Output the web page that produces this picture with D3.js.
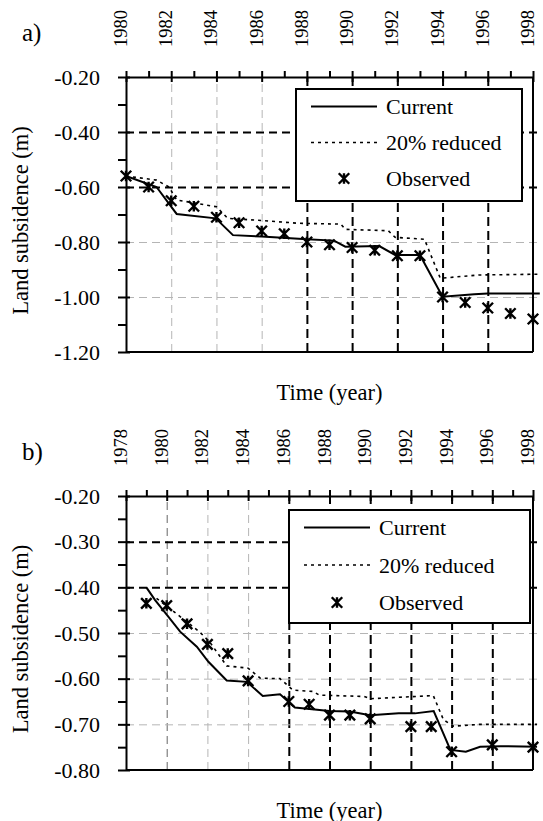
<!DOCTYPE html>
<html>
<head>
<meta charset="utf-8">
<script src="https://cdn.jsdelivr.net/npm/d3@7"></script>
<style>
  body { margin: 0; background: #fff; }
  text { font-family: "Liberation Serif", "Times New Roman", serif; fill: #000; }
</style>
</head>
<body>
<script>
// ---- panel a) data ----
const obsYearsA = [1980, 1981, 1982, 1983, 1984, 1985, 1986, 1987, 1988, 1989, 1990, 1991, 1992, 1993, 1994, 1995, 1996, 1997, 1998];
const observedA = [-0.56, -0.60, -0.65, -0.67, -0.71, -0.73, -0.76, -0.77, -0.80, -0.81, -0.82, -0.83, -0.85, -0.85, -1.00, -1.02, -1.04, -1.06, -1.08];
const currentYearsA = [1980, 1981.35, 1982.24, 1983.97, 1984.73, 1986, 1988, 1989.2, 1989.7, 1991.2, 1991.9, 1993, 1994, 1995.4, 1996, 1998.3];
const currentA = [-0.56, -0.60, -0.698, -0.714, -0.775, -0.78, -0.79, -0.795, -0.817, -0.815, -0.847, -0.847, -0.999, -0.99, -0.987, -0.987];
const reducedYearsA = [1980, 1981.35, 1981.9, 1982.24, 1984.0, 1984.5, 1986, 1987.65, 1989.5, 1989.7, 1991.6, 1991.9, 1993.2, 1993.9, 1995.6, 1998.3];
const reducedA = [-0.56, -0.575, -0.60, -0.647, -0.672, -0.714, -0.722, -0.732, -0.735, -0.754, -0.759, -0.783, -0.79, -0.932, -0.92, -0.917];
const yearLabelsA = [1980, 1982, 1984, 1986, 1988, 1990, 1992, 1994, 1996, 1998];
const yLabelsA = [-0.20, -0.40, -0.60, -0.80, -1.00, -1.20];

// ---- panel b) data ----
const obsYearsB = [1979, 1980, 1981, 1982, 1983, 1984, 1986, 1987, 1988, 1989, 1990, 1992, 1993, 1994, 1996, 1998];
const observedB = [-0.435, -0.44, -0.48, -0.525, -0.545, -0.605, -0.65, -0.656, -0.68, -0.68, -0.688, -0.705, -0.705, -0.76, -0.745, -0.75];
const currentYearsB = [1979, 1979.43, 1980, 1980.66, 1981.48, 1982.05, 1982.95, 1983.94, 1984.72, 1985.57, 1986.3, 1988, 1989, 1990, 1991.4, 1992.2, 1993.12, 1993.94, 1994.7, 1995.4, 1996.4, 1998.2];
const currentB = [-0.40, -0.428, -0.46, -0.497, -0.53, -0.563, -0.604, -0.607, -0.638, -0.634, -0.663, -0.671, -0.672, -0.68, -0.676, -0.676, -0.671, -0.756, -0.76, -0.749, -0.748, -0.749];
const reducedYearsB = [1979.5, 1980.66, 1981.6, 1982.1, 1982.95, 1984, 1984.6, 1985.57, 1986.2, 1987.2, 1987.5, 1989.7, 1990, 1993.1, 1993.6, 1994.1, 1995.4, 1998.2];
const reducedB = [-0.424, -0.464, -0.497, -0.519, -0.572, -0.577, -0.599, -0.60, -0.625, -0.628, -0.636, -0.639, -0.644, -0.637, -0.69, -0.704, -0.70, -0.70];
const yearLabelsB = [1978, 1980, 1982, 1984, 1986, 1988, 1990, 1992, 1994, 1996, 1998];
const yLabelsB = [-0.20, -0.30, -0.40, -0.50, -0.60, -0.70, -0.80];

const legendLabels = ['Current', '20% reduced', 'Observed'];

const serif = '"Liberation Serif", "Times New Roman", serif';

const svg = d3.select('body').append('svg')
  .attr('width', 543)
  .attr('height', 821)
  .attr('font-family', serif);

svg.append('rect').attr('width', 543).attr('height', 821).attr('fill', '#fff');

// X with a vertical bar, like the spreadsheet "star" marker
const starSymbol = {
  draw(ctx, size) {
    const r = Math.sqrt(size) / 2;
    ctx.moveTo(-r, -r); ctx.lineTo(r, r);
    ctx.moveTo(-r, r); ctx.lineTo(r, -r);
    ctx.moveTo(0, -r); ctx.lineTo(0, r);
  }
};

function drawPanel(p) {
  const x = d3.scaleLinear().domain(p.xDomain).range([p.left, p.right]);
  const y = d3.scaleLinear().domain(p.yDomain).range([p.top, p.bottom]);
  const g = svg.append('g');

  // grid lines (vertical, drawn bottom-up)
  const vg = g.append('g')
    .attr('transform', `translate(0,${p.bottom})`)
    .call(d3.axisBottom(x).tickValues(p.xGrid).tickSize(-(p.bottom - p.top)).tickFormat(''));
  vg.select('.domain').remove();
  vg.selectAll('.tick line')
    .attr('stroke', d => p.xDark(d) ? '#000' : (p.xMid && p.xMid(d) ? '#666' : '#b5b5b5'))
    .attr('stroke-width', d => p.xDark(d) ? 2 : 1)
    .attr('stroke-dasharray', d => p.xDark(d) ? '9,5' : '8,5');

  const hg = g.append('g')
    .attr('transform', `translate(${p.left},0)`)
    .call(d3.axisRight(y).tickValues(p.yGrid).tickSize(p.right - p.left + 6).tickFormat(''));
  hg.select('.domain').remove();
  hg.selectAll('.tick line')
    .attr('stroke', d => p.yDark(d) ? '#000' : '#b5b5b5')
    .attr('stroke-width', d => p.yDark(d) ? 2 : 1)
    .attr('stroke-dasharray', '8,5');

  // series
  const line = d3.line().x(d => x(d[0])).y(d => y(d[1]));
  g.append('path')
    .datum(d3.zip(p.reducedYears, p.reduced))
    .attr('fill', 'none').attr('stroke', '#000').attr('stroke-width', 1.6)
    .attr('stroke-dasharray', '3,4')
    .attr('d', line);
  g.append('path')
    .datum(d3.zip(p.currentYears, p.current))
    .attr('fill', 'none').attr('stroke', '#000').attr('stroke-width', 2)
    .attr('d', line);

  const sym = d3.symbol().type(starSymbol).size(110);
  g.selectAll('path.obs')
    .data(d3.zip(p.obsYears, p.observed))
    .enter().append('path')
    .attr('class', 'obs')
    .attr('transform', d => `translate(${x(d[0])},${y(d[1])})`)
    .attr('d', sym)
    .attr('fill', 'none').attr('stroke', '#000').attr('stroke-width', 2.4);

  // legend
  const lg = g.append('g').attr('transform', `translate(${p.legend[0]},${p.legend[1]})`);
  lg.append('rect')
    .attr('width', p.legend[2]).attr('height', p.legend[3])
    .attr('fill', '#fff').attr('stroke', '#000').attr('stroke-width', 2);
  legendLabels.forEach((lab, i) => {
    const cy = 17.5 + i * p.legendStep;
    if (i === 0) {
      lg.append('line').attr('x1', 15).attr('x2', 81).attr('y1', cy).attr('y2', cy)
        .attr('stroke', '#000').attr('stroke-width', 2);
    } else if (i === 1) {
      lg.append('line').attr('x1', 15).attr('x2', 81).attr('y1', cy).attr('y2', cy)
        .attr('stroke', '#000').attr('stroke-width', 1.6).attr('stroke-dasharray', '3,4');
    } else {
      lg.append('path').attr('transform', `translate(48,${cy})`).attr('d', sym)
        .attr('fill', 'none').attr('stroke', '#000').attr('stroke-width', 2.4);
    }
    lg.append('text').attr('x', 90).attr('y', cy).attr('dy', '0.35em')
      .attr('font-family', serif).attr('font-size', 22).text(lab);
  });

  // frame
  g.append('line').attr('x1', p.right).attr('x2', p.right).attr('y1', p.top).attr('y2', p.bottom)
    .attr('stroke', '#000').attr('stroke-width', 2);
  g.append('line').attr('x1', p.left).attr('x2', p.right).attr('y1', p.bottom).attr('y2', p.bottom)
    .attr('stroke', '#000').attr('stroke-width', 2);

  // top axis: yearly ticks outward, labelled every two years
  const allYears = d3.range(p.xDomain[0], p.xDomain[1] + 1);
  const top = g.append('g')
    .attr('transform', `translate(0,${p.top})`)
    .call(d3.axisTop(x).tickValues(allYears).tickSize(6).tickSizeOuter(0)
      .tickFormat(d => p.yearLabels.includes(d) ? d : ''));
  top.attr('font-family', serif);
  top.select('.domain').attr('stroke-width', 2);
  top.selectAll('.tick line').attr('stroke-width', 2);
  top.selectAll('text')
    .attr('font-family', serif)
    .attr('font-size', 18.5)
    .attr('transform', 'rotate(-90)')
    .attr('text-anchor', 'start')
    .attr('x', 30).attr('y', 0.5).attr('dy', 0);
  // inward part of the labelled ticks
  const topIn = g.append('g')
    .attr('transform', `translate(0,${p.top})`)
    .call(d3.axisBottom(x).tickValues(p.yearLabels).tickSize(5).tickFormat(''));
  topIn.select('.domain').remove();
  topIn.selectAll('.tick line').attr('stroke-width', 2);

  // left axis
  const left = g.append('g')
    .attr('transform', `translate(${p.left},0)`)
    .call(d3.axisLeft(y).tickValues(p.yTicks).tickSize(8).tickPadding(18).tickSizeOuter(0)
      .tickFormat(d => p.yLabels.some(v => Math.abs(v - d) < 1e-9) ? d.toFixed(2) : ''));
  left.attr('font-family', serif);
  left.select('.domain').attr('stroke-width', 2);
  left.selectAll('.tick line').attr('stroke-width', 2);
  left.selectAll('text').attr('font-family', serif).attr('font-size', 22);
  const leftIn = g.append('g')
    .attr('transform', `translate(${p.left},0)`)
    .call(d3.axisRight(y).tickValues(p.yLabels).tickSize(4).tickFormat(''));
  leftIn.select('.domain').remove();
  leftIn.selectAll('.tick line').attr('stroke-width', 2);

  // titles
  g.append('text').attr('x', 22).attr('y', p.top - 36)
    .attr('font-family', serif).attr('font-size', 25).text(p.tag);
  g.append('text')
    .attr('transform', `translate(28,${(p.top + p.bottom) / 2 + 6}) rotate(-90)`)
    .attr('text-anchor', 'middle').attr('font-family', serif).attr('font-size', 22.5)
    .text('Land subsidence (m)');
  g.append('text')
    .attr('x', (p.left + p.right) / 2).attr('y', p.bottom + 47.5)
    .attr('text-anchor', 'middle').attr('font-family', serif).attr('font-size', 22.5)
    .text('Time (year)');
}

drawPanel({
  tag: 'a)',
  left: 126, right: 533, top: 77, bottom: 352,
  xDomain: [1980, 1998], yDomain: [-0.2, -1.2],
  yearLabels: yearLabelsA, yLabels: yLabelsA,
  yTicks: d3.range(0, 11).map(i => -0.2 - i * 0.1),
  xGrid: d3.range(1982, 1998, 2), xDark: d => d >= 1988,
  yGrid: [-0.4, -0.6, -0.8, -1.0], yDark: d => d >= -0.61,
  obsYears: obsYearsA, observed: observedA,
  currentYears: currentYearsA, current: currentA,
  reducedYears: reducedYearsA, reduced: reducedA,
  legend: [296, 89, 226, 112], legendStep: 36
});

drawPanel({
  tag: 'b)',
  left: 126, right: 533, top: 496, bottom: 770,
  xDomain: [1978, 1998], yDomain: [-0.2, -0.8],
  yearLabels: yearLabelsB, yLabels: yLabelsB,
  yTicks: d3.range(0, 13).map(i => -0.2 - i * 0.05),
  xGrid: d3.range(1980, 1998, 2), xDark: d => d >= 1986, xMid: d => d === 1980,
  yGrid: [-0.3, -0.4, -0.5, -0.6, -0.7], yDark: d => d >= -0.41,
  obsYears: obsYearsB, observed: observedB,
  currentYears: currentYearsB, current: currentB,
  reducedYears: reducedYearsB, reduced: reducedB,
  legend: [289, 510, 241, 113], legendStep: 37.5
});
</script>
</body>
</html>
